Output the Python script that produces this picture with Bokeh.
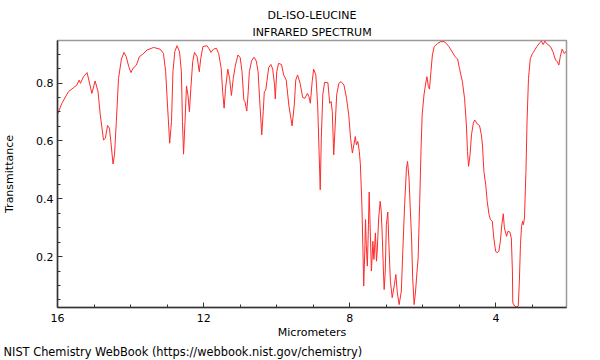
from bokeh.plotting import figure
from bokeh.models import Range1d, FixedTicker, Title, ColumnDataSource
from bokeh.embed import file_html
from bokeh.resources import INLINE

# ---- data (wavelength in micrometers, transmittance) ----
wavelength = [
    16.00, 15.88, 15.70, 15.56, 15.47, 15.41, 15.37, 15.29, 15.19, 15.06,
    14.97, 14.89, 14.83, 14.74, 14.69, 14.63, 14.58, 14.54, 14.48, 14.44,
    14.39, 14.33, 14.25, 14.18, 14.12, 14.05, 13.99, 13.93, 13.84, 13.76,
    13.67, 13.55, 13.37, 13.19, 13.10, 13.04, 12.99, 12.93, 12.88, 12.84,
    12.79, 12.73, 12.66, 12.61, 12.58, 12.55, 12.51, 12.47, 12.43, 12.39,
    12.35, 12.30, 12.25, 12.18, 12.12, 12.08, 12.02, 11.91, 11.86, 11.80,
    11.73, 11.65, 11.59, 11.52, 11.48, 11.44, 11.40, 11.34, 11.29, 11.24,
    11.19, 11.13, 11.06, 11.00, 10.95, 10.90, 10.87, 10.82, 10.78, 10.75,
    10.69, 10.62, 10.56, 10.51, 10.47, 10.41, 10.37, 10.34, 10.30, 10.27,
    10.22, 10.16, 10.11, 10.06, 10.04, 10.00, 9.95, 9.87, 9.81, 9.74,
    9.67, 9.58, 9.52, 9.48, 9.43, 9.36, 9.29, 9.23, 9.16, 9.12,
    9.08, 9.03, 8.99, 8.93, 8.88, 8.81, 8.78, 8.74, 8.69, 8.60,
    8.55, 8.51, 8.48, 8.44, 8.40, 8.36, 8.30, 8.24, 8.16, 8.09,
    8.03, 7.98, 7.93, 7.89, 7.85, 7.82, 7.78, 7.74, 7.71, 7.67,
    7.64, 7.62, 7.59, 7.57, 7.55, 7.52, 7.49, 7.47, 7.44, 7.41,
    7.38, 7.37, 7.34, 7.30, 7.27, 7.25, 7.21, 7.17, 7.14, 7.11,
    7.08, 7.06, 7.03, 7.00, 6.96, 6.93, 6.89, 6.84, 6.78, 6.74,
    6.70, 6.65, 6.59, 6.55, 6.50, 6.45, 6.42, 6.38, 6.35, 6.31,
    6.28, 6.24, 6.20, 6.16, 6.13, 6.09, 6.05, 6.02, 5.97, 5.93,
    5.89, 5.85, 5.82, 5.78, 5.74, 5.69, 5.60, 5.51, 5.42, 5.36,
    5.29, 5.20, 5.12, 5.05, 5.00, 4.92, 4.86, 4.81, 4.78, 4.75,
    4.71, 4.67, 4.62, 4.58, 4.51, 4.45, 4.40, 4.37, 4.33, 4.28,
    4.24, 4.19, 4.15, 4.10, 4.06, 4.01, 3.97, 3.92, 3.88, 3.84,
    3.80, 3.77, 3.71, 3.67, 3.62, 3.58, 3.55, 3.54, 3.49, 3.43,
    3.39, 3.36, 3.33, 3.30, 3.27, 3.25, 3.22, 3.18, 3.15, 3.11,
    3.06, 3.00, 2.94, 2.88, 2.80, 2.76, 2.71, 2.66, 2.62, 2.58,
    2.51, 2.44, 2.37, 2.32, 2.28, 2.24, 2.19, 2.13, 2.08,
]
transmittance = [
    0.692, 0.730, 0.770, 0.784, 0.793, 0.810, 0.799, 0.822, 0.836, 0.764,
    0.807, 0.770, 0.690, 0.603, 0.609, 0.653, 0.644, 0.598, 0.520, 0.552,
    0.667, 0.816, 0.883, 0.906, 0.891, 0.857, 0.836, 0.851, 0.862, 0.891,
    0.899, 0.914, 0.923, 0.917, 0.902, 0.839, 0.724, 0.592, 0.667, 0.839,
    0.908, 0.929, 0.908, 0.839, 0.667, 0.554, 0.667, 0.790, 0.759, 0.701,
    0.782, 0.874, 0.906, 0.891, 0.839, 0.885, 0.926, 0.929, 0.920, 0.906,
    0.917, 0.920, 0.902, 0.851, 0.770, 0.713, 0.782, 0.848, 0.816, 0.757,
    0.816, 0.862, 0.897, 0.888, 0.839, 0.741, 0.736, 0.703, 0.770, 0.839,
    0.876, 0.889, 0.876, 0.839, 0.747, 0.621, 0.701, 0.770, 0.776, 0.805,
    0.853, 0.864, 0.848, 0.793, 0.745, 0.839, 0.868, 0.864, 0.828, 0.810,
    0.724, 0.652, 0.724, 0.810, 0.828, 0.799, 0.750, 0.747, 0.764, 0.753,
    0.730, 0.805, 0.848, 0.828, 0.724, 0.431, 0.609, 0.759, 0.802, 0.801,
    0.730, 0.736, 0.701, 0.552, 0.655, 0.759, 0.799, 0.805, 0.793, 0.747,
    0.690, 0.609, 0.558, 0.586, 0.615, 0.586, 0.598, 0.563, 0.517, 0.379,
    0.219, 0.098, 0.219, 0.328, 0.241, 0.167, 0.310, 0.423, 0.288, 0.150,
    0.219, 0.253, 0.190, 0.282, 0.184, 0.219, 0.333, 0.391, 0.357, 0.264,
    0.150, 0.086, 0.150, 0.310, 0.354, 0.241, 0.115, 0.058, 0.103, 0.138,
    0.075, 0.034, 0.081, 0.219, 0.379, 0.506, 0.529, 0.471, 0.379, 0.264,
    0.127, 0.034, 0.081, 0.150, 0.195, 0.379, 0.575, 0.690, 0.759, 0.793,
    0.822, 0.788, 0.779, 0.839, 0.897, 0.926, 0.937, 0.943, 0.943, 0.937,
    0.926, 0.908, 0.891, 0.883, 0.851, 0.805, 0.747, 0.655, 0.563, 0.512,
    0.552, 0.621, 0.661, 0.672, 0.658, 0.653, 0.621, 0.586, 0.494, 0.448,
    0.391, 0.345, 0.328, 0.322, 0.264, 0.219, 0.213, 0.219, 0.253, 0.310,
    0.348, 0.299, 0.270, 0.288, 0.285, 0.264, 0.150, 0.040, 0.029, 0.026,
    0.029, 0.115, 0.241, 0.305, 0.322, 0.310, 0.333, 0.494, 0.667, 0.816,
    0.885, 0.902, 0.914, 0.926, 0.940, 0.945, 0.933, 0.945, 0.937, 0.933,
    0.926, 0.908, 0.879, 0.874, 0.862, 0.891, 0.917, 0.902, 0.910,
]

x_major = [16, 12, 8, 4]
x_minor = [15, 14, 13, 11, 10, 9, 7, 6, 5, 3]
y_major = [0.2, 0.4, 0.6, 0.8]
y_minor = [0.05, 0.1, 0.15, 0.25, 0.3, 0.35, 0.45, 0.5, 0.55, 0.65, 0.7, 0.75, 0.85, 0.9]

title_lines = ["DL-ISO-LEUCINE", "INFRARED SPECTRUM"]
x_label = "Micrometers"
y_label = "Transmittance"
footer = "NIST Chemistry WebBook (https://webbook.nist.gov/chemistry)"

FONT = "DejaVu Sans"

p = figure(
    width=600, height=360,
    min_border_left=57, min_border_right=34, min_border_top=40, min_border_bottom=52,
    x_range=Range1d(16, 2.07), y_range=Range1d(0.024, 0.947),
    output_backend="svg", toolbar_location=None,
)
p.xgrid.visible = False
p.ygrid.visible = False
p.outline_line_color = "#9a9a9a"
p.outline_line_width = 1.5
p.background_fill_color = "white"
p.border_fill_color = "white"

src = ColumnDataSource(dict(x=wavelength, y=transmittance))
p.line("x", "y", source=src, line_color="#ff2a2a", line_width=1)

for ax in (p.xaxis[0], p.yaxis[0]):
    ax.axis_line_color = "#333333"
    ax.axis_line_width = 1.5
    ax.major_tick_line_color = "#333333"
    ax.minor_tick_line_color = "#333333"
    ax.major_tick_out = 0
    ax.minor_tick_out = 0
    ax.major_tick_in = 5
    ax.minor_tick_in = 3
    ax.major_label_text_font = FONT
    ax.major_label_text_font_size = "11px"
    ax.major_label_text_color = "black"
    ax.axis_label_text_font = FONT
    ax.axis_label_text_font_size = "11px"
    ax.axis_label_text_font_style = "normal"
    ax.axis_label_text_color = "black"

p.xaxis[0].ticker = FixedTicker(ticks=x_major, minor_ticks=x_minor)
p.yaxis[0].ticker = FixedTicker(ticks=y_major, minor_ticks=y_minor)
p.xaxis[0].axis_label = x_label
p.yaxis[0].axis_label = y_label
p.xaxis[0].major_label_standoff = 6
p.xaxis[0].axis_label_standoff = 1
p.yaxis[0].major_label_standoff = 4
p.yaxis[0].axis_label_standoff = 17

# title lines (first added sits closest to the frame)
p.add_layout(Title(text=title_lines[1], align="center", standoff=4,
                   text_font=FONT, text_font_size="11px", text_font_style="normal",
                   text_color="black"), "above")
p.add_layout(Title(text=title_lines[0], align="center", standoff=0,
                   text_font=FONT, text_font_size="11px", text_font_style="normal",
                   text_color="black"), "above")
# footer, below the x axis, shifted to the canvas' left edge
p.add_layout(Title(text=footer, align="left", offset=-54, standoff=3,
                   text_font=FONT, text_font_size="11.4px", text_font_style="normal",
                   text_color="black"), "below")

open("out.html", "w").write(file_html(p, INLINE))
